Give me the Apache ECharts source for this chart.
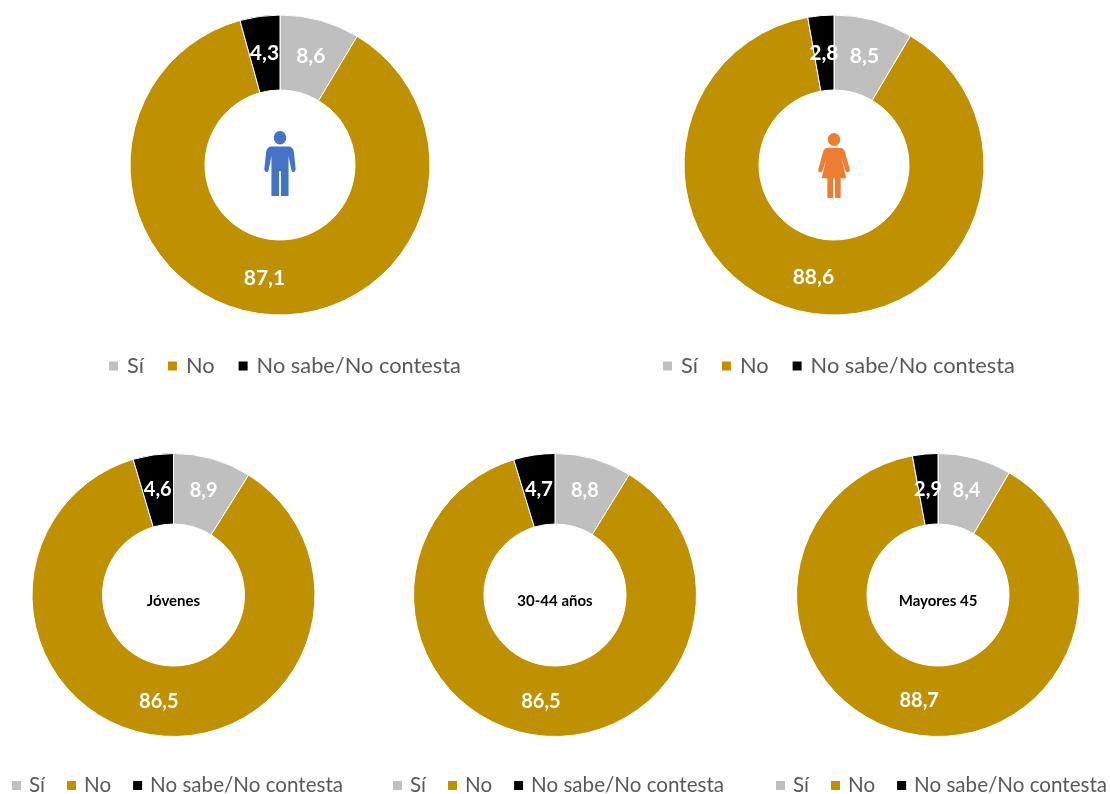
<!DOCTYPE html>
<html><head><meta charset="utf-8">
<style>html,body{margin:0;padding:0;background:#fff}#c{width:1110px;height:794px}</style>
<script src="https://cdn.jsdelivr.net/npm/echarts@6/dist/echarts.min.js"></script>
</head><body><div id="c"></div>
<script>
const categories = ['Sí', 'No', 'No sabe/No contesta'];
const colors = ['#BFBFBF', '#BF9000', '#000000'];
const hombres = [8.6, 87.1, 4.3];
const mujeres = [8.5, 88.6, 2.8];
const jovenes = [8.9, 86.5, 4.6];
const medios = [8.8, 86.5, 4.7];
const mayores = [8.4, 88.7, 2.9];
const centerLabels = ['Jóvenes', '30-44 años', 'Mayores 45'];
const FONT = 'Lato, "Open Sans", sans-serif';

const layouts = [
  {v: hombres, c: [280, 165], r: [75, 150], fs: 21, legend: [107, 355], lf: 21.8, gap: 22, pad: 3, off: [[0, 3], [0, -1], [0, 3]]},
  {v: mujeres, c: [834, 165], r: [75, 150], fs: 21, legend: [661, 355], lf: 21.8, gap: 22, pad: 3, off: [[0, 3], [0, -1], [0, 3]]},
  {v: jovenes, c: [173.5, 595], r: [71, 141.5], fs: 20, legend: [10, 775], lf: 20.6, gap: 20, pad: 2, off: [[0, 1], [0, -2], [0, 3]]},
  {v: medios,  c: [555, 595], r: [71, 141.5], fs: 20, legend: [391, 775], lf: 20.6, gap: 20, pad: 2, off: [[0, 1], [0, -2], [0, 3]]},
  {v: mayores, c: [938, 595], r: [71, 141.5], fs: 20, legend: [774, 775], lf: 20.6, gap: 20, pad: 2, off: [[0, 1], [0, -2], [0, 3]]}
];
const fmt = x => String(x).replace('.', ',');

const series = layouts.map(l => ({
  type: 'pie', center: l.c, radius: l.r, startAngle: 90, clockwise: true, animation: false,
  itemStyle: {borderColor: '#fff', borderWidth: 1},
  label: {show: true, position: 'inside', color: '#fff', fontFamily: FONT, fontWeight: 'bold', fontSize: l.fs,
          formatter: p => fmt(p.value)},
  labelLine: {show: false}, emphasis: {disabled: true},
  data: categories.map((n, i) => ({name: n, value: l.v[i], itemStyle: {color: colors[i]}, label: {offset: l.off[i]}}))
}));

const legends = layouts.map(l => ({
  left: l.legend[0], top: l.legend[1], width: 420, orient: 'horizontal', data: categories, icon: 'rect',
  itemWidth: 11, itemHeight: 11, itemGap: l.gap, padding: 0, selectedMode: false,
  textStyle: {color: '#595959', fontFamily: FONT, fontSize: l.lf, padding: [0, 0, 0, l.pad]}
}));

const man = 'M15 0a6.5 6.5 0 1 1 0 13.2a6.5 6.5 0 1 1 0 -13.2z M6 15h18c3 0 5 2 5.5 5l2 17c.3 3 -4 4 -4.5 1l-3 -14v39h-8v-24h-2v24h-8v-39l-3 14c-.5 3 -4.8 2 -4.5 -1l2 -17c.5 -3 2.5 -5 5.5 -5z';
const woman = 'M15 0a6.5 6.5 0 1 1 0 13.2a6.5 6.5 0 1 1 0 -13.2z M9 15h12c3 0 4.5 1.5 5.5 4l5 18c.8 3 -3.5 4 -4.5 1l-4 -12l5 20h-6v20h-6v-20h-2v20h-6v-20h-6l5 -20l-4 12c-1 3 -5.3 2 -4.5 -1l5 -18c1 -2.5 2.5 -4 5.5 -4z';
echarts.graphic.registerShape('manIcon', echarts.graphic.extendPath(man, {}));
echarts.graphic.registerShape('womanIcon', echarts.graphic.extendPath(woman, {}));

const graphic = [
  {type: 'manIcon', x: 280 - 15 * 0.95, y: 131, scaleX: 0.95, scaleY: 1.03, style: {fill: '#4472C4'}},
  {type: 'womanIcon', x: 834 - 15 * 0.95, y: 133, scaleX: 0.95, scaleY: 0.985, style: {fill: '#ED7D31'}}
].concat(centerLabels.map((t, i) => ({
  type: 'text', x: layouts[i + 2].c[0], y: 601,
  style: {text: t, fill: '#000', font: 'bold 15px ' + FONT, textAlign: 'center', textVerticalAlign: 'middle'}
})));

echarts.init(document.getElementById('c'), null, {renderer: 'canvas'}).setOption({
  backgroundColor: '#fff', animation: false, legend: legends, series, graphic
});
</script></body></html>
